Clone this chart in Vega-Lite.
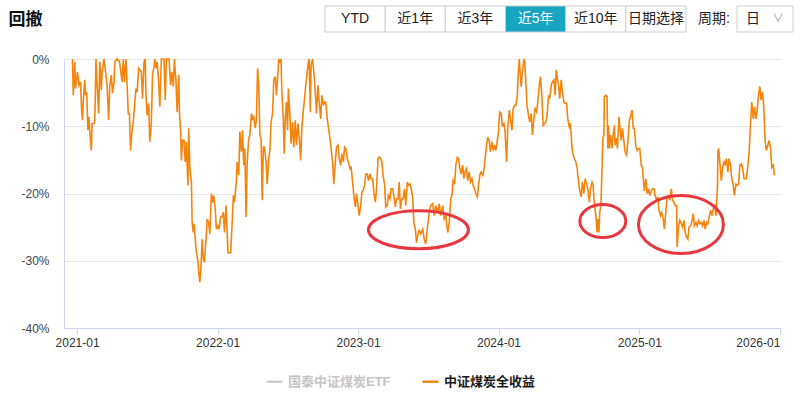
{
"$schema": "https://vega.github.io/schema/vega-lite/v6.json",
"width": 717, "height": 269,
"autosize": {"type": "none"},
"padding": {"left": 64, "top": 59, "right": 19, "bottom": 70},
"background": "#ffffff",
"config": {"font": "Liberation Sans, Noto Sans CJK SC, sans-serif", "view": {"stroke": null}},
"datasets": {
"drawdown": [
{"date":"2020-12-20","value":0},{"date":"2020-12-22","value":-5.4},{"date":"2020-12-26","value":-0.4},{"date":"2020-12-28","value":-4.4},{"date":"2021-01-02","value":-1.9},{"date":"2021-01-06","value":-3.9},{"date":"2021-01-10","value":-3.4},{"date":"2021-01-13","value":-7.9},{"date":"2021-01-15","value":-9.1},{"date":"2021-01-17","value":-6.4},{"date":"2021-01-21","value":-3.1},{"date":"2021-01-23","value":-5.4},{"date":"2021-01-26","value":-4.9},{"date":"2021-01-29","value":-10.6},{"date":"2021-02-01","value":-8.6},{"date":"2021-02-03","value":-10.8},{"date":"2021-02-07","value":-13.6},{"date":"2021-02-09","value":-9.6},{"date":"2021-02-14","value":-9.6},{"date":"2021-02-16","value":-9.4},{"date":"2021-02-19","value":0},{"date":"2021-02-22","value":-3.9},{"date":"2021-02-26","value":-8.1},{"date":"2021-03-01","value":-0.4},{"date":"2021-03-05","value":-4.6},{"date":"2021-03-07","value":-1.9},{"date":"2021-03-12","value":0},{"date":"2021-03-16","value":-1.9},{"date":"2021-03-20","value":-3.9},{"date":"2021-03-24","value":-9.1},{"date":"2021-03-27","value":-3.9},{"date":"2021-03-31","value":-2.4},{"date":"2021-04-03","value":-5.1},{"date":"2021-04-07","value":-3.4},{"date":"2021-04-09","value":-0.4},{"date":"2021-04-15","value":0},{"date":"2021-04-21","value":-0.4},{"date":"2021-04-24","value":-1.6},{"date":"2021-04-28","value":-3.4},{"date":"2021-05-01","value":0},{"date":"2021-05-04","value":-3.4},{"date":"2021-05-08","value":0},{"date":"2021-05-11","value":-3.9},{"date":"2021-05-14","value":-8.1},{"date":"2021-05-17","value":-8.1},{"date":"2021-05-20","value":-13.6},{"date":"2021-05-23","value":-11.1},{"date":"2021-05-27","value":-9.4},{"date":"2021-05-30","value":-7.1},{"date":"2021-06-03","value":-4.4},{"date":"2021-06-06","value":-4.9},{"date":"2021-06-10","value":-1.4},{"date":"2021-06-13","value":-1.6},{"date":"2021-06-17","value":-1.9},{"date":"2021-06-20","value":-5.9},{"date":"2021-06-24","value":-0.4},{"date":"2021-06-27","value":0},{"date":"2021-06-29","value":-5.4},{"date":"2021-07-02","value":-8.4},{"date":"2021-07-06","value":-6.6},{"date":"2021-07-09","value":-12.3},{"date":"2021-07-13","value":-9.4},{"date":"2021-07-16","value":-2.4},{"date":"2021-07-20","value":-1.1},{"date":"2021-07-22","value":0},{"date":"2021-07-25","value":-1.4},{"date":"2021-07-28","value":-0.4},{"date":"2021-08-01","value":-3.4},{"date":"2021-08-04","value":-7.1},{"date":"2021-08-08","value":0},{"date":"2021-08-15","value":0},{"date":"2021-08-18","value":-6.1},{"date":"2021-08-21","value":0},{"date":"2021-08-28","value":0},{"date":"2021-09-01","value":-3.9},{"date":"2021-09-04","value":-1.9},{"date":"2021-09-08","value":-4.1},{"date":"2021-09-11","value":0},{"date":"2021-09-15","value":-3.4},{"date":"2021-09-18","value":-7.9},{"date":"2021-09-22","value":-2.4},{"date":"2021-09-24","value":-7.9},{"date":"2021-09-27","value":-10.8},{"date":"2021-09-29","value":-15.1},{"date":"2021-10-02","value":-12.1},{"date":"2021-10-06","value":-12.1},{"date":"2021-10-09","value":-15.3},{"date":"2021-10-12","value":-12.3},{"date":"2021-10-16","value":-18.8},{"date":"2021-10-18","value":-10.3},{"date":"2021-10-21","value":-16.3},{"date":"2021-10-25","value":-18.3},{"date":"2021-10-27","value":-24.3},{"date":"2021-10-30","value":-25.8},{"date":"2021-11-01","value":-24.5},{"date":"2021-11-04","value":-26.8},{"date":"2021-11-07","value":-28.8},{"date":"2021-11-11","value":-30},{"date":"2021-11-13","value":-31.7},{"date":"2021-11-16","value":-33.2},{"date":"2021-11-19","value":-30.7},{"date":"2021-11-22","value":-26.8},{"date":"2021-11-25","value":-29.8},{"date":"2021-11-28","value":-30.2},{"date":"2021-12-02","value":-26.8},{"date":"2021-12-05","value":-23.8},{"date":"2021-12-09","value":-24.3},{"date":"2021-12-12","value":-26},{"date":"2021-12-16","value":-20},{"date":"2021-12-19","value":-21.3},{"date":"2021-12-22","value":-20.3},{"date":"2021-12-26","value":-22.3},{"date":"2021-12-29","value":-25.3},{"date":"2022-01-02","value":-24.8},{"date":"2022-01-05","value":-25.3},{"date":"2022-01-09","value":-23.5},{"date":"2022-01-12","value":-23.5},{"date":"2022-01-16","value":-22.8},{"date":"2022-01-19","value":-25.8},{"date":"2022-01-23","value":-21.8},{"date":"2022-01-26","value":-25.8},{"date":"2022-01-28","value":-28.8},{"date":"2022-02-04","value":-28.8},{"date":"2022-02-08","value":-24.3},{"date":"2022-02-11","value":-20.3},{"date":"2022-02-14","value":-21.3},{"date":"2022-02-18","value":-18.8},{"date":"2022-02-21","value":-15.3},{"date":"2022-02-25","value":-17.3},{"date":"2022-02-28","value":-10.8},
{"date":"2022-03-04","value":-13.8},{"date":"2022-03-07","value":-10.6},{"date":"2022-03-10","value":-15.8},{"date":"2022-03-13","value":-13.3},{"date":"2022-03-16","value":-23.5},{"date":"2022-03-19","value":-15.3},{"date":"2022-03-23","value":-11.8},{"date":"2022-03-26","value":-11.3},{"date":"2022-03-30","value":-8.1},{"date":"2022-04-02","value":-8.9},{"date":"2022-04-05","value":-8.6},{"date":"2022-04-09","value":-10.3},{"date":"2022-04-12","value":-8.9},{"date":"2022-04-15","value":-1.4},{"date":"2022-04-18","value":-3.9},{"date":"2022-04-21","value":-11.3},{"date":"2022-04-24","value":-11.8},{"date":"2022-04-27","value":-21},{"date":"2022-04-30","value":-13.1},{"date":"2022-05-03","value":-13.1},{"date":"2022-05-07","value":-15.3},{"date":"2022-05-10","value":-18.6},{"date":"2022-05-14","value":-14.8},{"date":"2022-05-17","value":-13.6},{"date":"2022-05-20","value":-9.4},{"date":"2022-05-24","value":-8.1},{"date":"2022-05-27","value":-3.1},{"date":"2022-05-31","value":-2.6},{"date":"2022-06-03","value":-5.4},{"date":"2022-06-07","value":-1.9},{"date":"2022-06-09","value":0},{"date":"2022-06-12","value":-0.4},{"date":"2022-06-15","value":0},{"date":"2022-06-17","value":-4.9},{"date":"2022-06-21","value":-8.9},{"date":"2022-06-23","value":-14.1},{"date":"2022-06-26","value":-8.9},{"date":"2022-06-29","value":-6.4},{"date":"2022-07-02","value":-10.6},{"date":"2022-07-04","value":-4.4},{"date":"2022-07-08","value":-8.4},{"date":"2022-07-11","value":-12.6},{"date":"2022-07-15","value":-9.4},{"date":"2022-07-18","value":-13.1},{"date":"2022-07-22","value":-9.1},{"date":"2022-07-25","value":-12.8},{"date":"2022-07-29","value":-9.6},{"date":"2022-08-01","value":-11.6},{"date":"2022-08-05","value":-15.1},{"date":"2022-08-08","value":-10.1},{"date":"2022-08-12","value":-7.6},{"date":"2022-08-15","value":-5.9},{"date":"2022-08-19","value":-3.4},{"date":"2022-08-22","value":-1.9},{"date":"2022-08-25","value":-0.4},{"date":"2022-08-27","value":0},{"date":"2022-08-30","value":-7.9},{"date":"2022-09-01","value":-0.9},{"date":"2022-09-05","value":0},{"date":"2022-09-08","value":-1.9},{"date":"2022-09-12","value":-4.9},{"date":"2022-09-15","value":-8.1},{"date":"2022-09-19","value":-3.9},{"date":"2022-09-22","value":-6.4},{"date":"2022-09-26","value":-8.9},{"date":"2022-09-29","value":-5.4},{"date":"2022-10-03","value":-6.9},{"date":"2022-10-06","value":-6.4},{"date":"2022-10-09","value":-6.4},{"date":"2022-10-13","value":-8.9},{"date":"2022-10-16","value":-10.1},{"date":"2022-10-20","value":-11.8},{"date":"2022-10-23","value":-13.3},{"date":"2022-10-27","value":-15.3},{"date":"2022-10-30","value":-18.6},{"date":"2022-11-03","value":-15.3},{"date":"2022-11-06","value":-13.1},{"date":"2022-11-10","value":-12.8},{"date":"2022-11-13","value":-14.8},{"date":"2022-11-17","value":-15.8},{"date":"2022-11-20","value":-14.1},{"date":"2022-11-24","value":-15.3},{"date":"2022-11-27","value":-13.1},{"date":"2022-11-30","value":-13.3},{"date":"2022-12-04","value":-14.8},{"date":"2022-12-07","value":-15.3},{"date":"2022-12-11","value":-16.3},{"date":"2022-12-14","value":-16.1},{"date":"2022-12-18","value":-18.3},{"date":"2022-12-21","value":-20.3},{"date":"2022-12-25","value":-22},{"date":"2022-12-28","value":-20},{"date":"2023-01-01","value":-21.8},{"date":"2023-01-04","value":-23.3},{"date":"2023-01-08","value":-21.8},{"date":"2023-01-11","value":-19.8},{"date":"2023-01-14","value":-19.6},{"date":"2023-01-18","value":-18.8},{"date":"2023-01-21","value":-17.1},{"date":"2023-01-25","value":-17.1},{"date":"2023-01-28","value":-18.1},{"date":"2023-02-01","value":-17.1},{"date":"2023-02-04","value":-17.8},{"date":"2023-02-08","value":-17.8},{"date":"2023-02-11","value":-19.8},{"date":"2023-02-15","value":-21.3},{"date":"2023-02-18","value":-19.3},{"date":"2023-02-22","value":-14.8},{"date":"2023-02-25","value":-14.6},{"date":"2023-03-01","value":-14.8},{"date":"2023-03-04","value":-15.3},{"date":"2023-03-07","value":-17.3},{"date":"2023-03-11","value":-18.6},{"date":"2023-03-14","value":-22},{"date":"2023-03-18","value":-21.8},{"date":"2023-03-21","value":-20.3},{"date":"2023-03-25","value":-20.8},{"date":"2023-03-28","value":-19.3},{"date":"2023-04-01","value":-19.3},{"date":"2023-04-04","value":-20.3},{"date":"2023-04-08","value":-22},{"date":"2023-04-11","value":-20.8},{"date":"2023-04-15","value":-20.8},{"date":"2023-04-18","value":-18.3},{"date":"2023-04-21","value":-22.3},{"date":"2023-04-25","value":-20.8},{"date":"2023-04-28","value":-20.8},{"date":"2023-05-02","value":-19.3},{"date":"2023-05-05","value":-21.8},{"date":"2023-05-09","value":-18.3},{"date":"2023-05-12","value":-18.8},{"date":"2023-05-16","value":-18.6},{"date":"2023-05-19","value":-19.3},{"date":"2023-05-23","value":-20.5},{"date":"2023-05-26","value":-24.3},{"date":"2023-05-30","value":-25.3},{"date":"2023-06-02","value":-27.3},{"date":"2023-06-06","value":-26},{"date":"2023-06-09","value":-25.5},
{"date":"2023-06-13","value":-26},{"date":"2023-06-18","value":-25.3},{"date":"2023-06-22","value":-26.8},{"date":"2023-06-26","value":-27.5},{"date":"2023-07-01","value":-24.8},{"date":"2023-07-05","value":-22.8},{"date":"2023-07-09","value":-21.8},{"date":"2023-07-14","value":-21.5},{"date":"2023-07-18","value":-23.3},{"date":"2023-07-22","value":-21.8},{"date":"2023-07-27","value":-22.8},{"date":"2023-07-31","value":-21.5},{"date":"2023-08-04","value":-23.3},{"date":"2023-08-09","value":-21.8},{"date":"2023-08-13","value":-23.8},{"date":"2023-08-17","value":-23.3},{"date":"2023-08-22","value":-25.8},{"date":"2023-08-26","value":-24.3},{"date":"2023-08-30","value":-20.8},{"date":"2023-09-02","value":-20.3},{"date":"2023-09-05","value":-18.1},{"date":"2023-09-09","value":-18.6},{"date":"2023-09-12","value":-15.8},{"date":"2023-09-16","value":-14.6},{"date":"2023-09-19","value":-14.8},{"date":"2023-09-23","value":-16.3},{"date":"2023-09-26","value":-17.1},{"date":"2023-09-30","value":-15.8},{"date":"2023-10-03","value":-17.8},{"date":"2023-10-06","value":-16.8},{"date":"2023-10-10","value":-16.3},{"date":"2023-10-13","value":-18.1},{"date":"2023-10-17","value":-16.8},{"date":"2023-10-20","value":-18.3},{"date":"2023-10-24","value":-17.8},{"date":"2023-10-27","value":-18.8},{"date":"2023-10-31","value":-19.3},{"date":"2023-11-03","value":-20},{"date":"2023-11-07","value":-20.5},{"date":"2023-11-10","value":-18.8},{"date":"2023-11-14","value":-17.1},{"date":"2023-11-17","value":-16.8},{"date":"2023-11-21","value":-17.3},{"date":"2023-11-24","value":-16.6},{"date":"2023-11-28","value":-14.3},{"date":"2023-12-01","value":-12.8},{"date":"2023-12-04","value":-11.6},{"date":"2023-12-08","value":-12.3},{"date":"2023-12-11","value":-13.8},{"date":"2023-12-15","value":-12.3},{"date":"2023-12-18","value":-13.6},{"date":"2023-12-22","value":-12.8},{"date":"2023-12-25","value":-13.6},{"date":"2023-12-29","value":-12.1},{"date":"2024-01-01","value":-10.8},{"date":"2024-01-04","value":-7.9},{"date":"2024-01-08","value":-8.1},{"date":"2024-01-11","value":-9.9},{"date":"2024-01-15","value":-9.6},{"date":"2024-01-18","value":-10.8},{"date":"2024-01-22","value":-15.3},{"date":"2024-01-25","value":-10.3},{"date":"2024-01-29","value":-7.6},{"date":"2024-02-01","value":-8.9},{"date":"2024-02-05","value":-10.6},{"date":"2024-02-08","value":-7.4},{"date":"2024-02-12","value":-6.9},{"date":"2024-02-15","value":-6.9},{"date":"2024-02-19","value":-5.4},{"date":"2024-02-21","value":-2.4},{"date":"2024-02-24","value":0},{"date":"2024-02-26","value":-1.9},{"date":"2024-02-29","value":-4.1},{"date":"2024-03-03","value":-1.9},{"date":"2024-03-07","value":0},{"date":"2024-03-09","value":-0.4},{"date":"2024-03-12","value":-3.4},{"date":"2024-03-15","value":-6.9},{"date":"2024-03-19","value":-8.4},{"date":"2024-03-22","value":-9.4},{"date":"2024-03-26","value":-8.1},{"date":"2024-03-29","value":-11.3},{"date":"2024-04-02","value":-8.9},{"date":"2024-04-05","value":-7.4},{"date":"2024-04-09","value":-7.9},{"date":"2024-04-12","value":-6.4},{"date":"2024-04-16","value":-3.9},{"date":"2024-04-19","value":-2.6},{"date":"2024-04-23","value":-5.9},{"date":"2024-04-26","value":-9.9},{"date":"2024-04-30","value":-9.6},{"date":"2024-05-03","value":-9.4},{"date":"2024-05-06","value":-8.6},{"date":"2024-05-10","value":-5.4},{"date":"2024-05-13","value":-5.9},{"date":"2024-05-17","value":-3.9},{"date":"2024-05-20","value":-3.4},{"date":"2024-05-24","value":-3.1},{"date":"2024-05-27","value":-5.4},{"date":"2024-05-30","value":-1.6},{"date":"2024-06-02","value":-2.9},{"date":"2024-06-05","value":-3.9},{"date":"2024-06-08","value":-5.9},{"date":"2024-06-12","value":-3.1},{"date":"2024-06-15","value":-4.9},{"date":"2024-06-19","value":-6.4},{"date":"2024-06-22","value":-6.6},{"date":"2024-06-26","value":-6.6},{"date":"2024-06-29","value":-8.9},{"date":"2024-07-03","value":-10.1},{"date":"2024-07-06","value":-9.6},{"date":"2024-07-10","value":-13.3},{"date":"2024-07-13","value":-14.3},{"date":"2024-07-16","value":-14.8},{"date":"2024-07-20","value":-15.3},{"date":"2024-07-23","value":-16.1},{"date":"2024-07-27","value":-18.3},{"date":"2024-07-30","value":-19.6},{"date":"2024-08-03","value":-20.5},{"date":"2024-08-06","value":-18.3},{"date":"2024-08-10","value":-20},{"date":"2024-08-13","value":-17.8},{"date":"2024-08-17","value":-18.6},{"date":"2024-08-20","value":-19.3},{"date":"2024-08-24","value":-21.3},{"date":"2024-08-27","value":-19.3},{"date":"2024-08-31","value":-18.3},
{"date":"2024-09-03","value":-18.8},{"date":"2024-09-05","value":-20.8},{"date":"2024-09-07","value":-21.8},{"date":"2024-09-10","value":-23.3},{"date":"2024-09-13","value":-25.8},{"date":"2024-09-15","value":-23.8},{"date":"2024-09-18","value":-25.8},{"date":"2024-09-20","value":-22.8},{"date":"2024-09-23","value":-21.8},{"date":"2024-09-26","value":-16.3},{"date":"2024-09-28","value":-11.8},{"date":"2024-10-01","value":-11.3},{"date":"2024-10-02","value":-5.6},{"date":"2024-10-06","value":-5.4},{"date":"2024-10-09","value":-5.6},{"date":"2024-10-11","value":-13.3},{"date":"2024-10-13","value":-9.9},{"date":"2024-10-15","value":-13.3},{"date":"2024-10-18","value":-11.3},{"date":"2024-10-22","value":-13.3},{"date":"2024-10-24","value":-11.8},{"date":"2024-10-28","value":-9.9},{"date":"2024-10-30","value":-12.8},{"date":"2024-11-02","value":-11.8},{"date":"2024-11-05","value":-13.3},{"date":"2024-11-09","value":-8.6},{"date":"2024-11-11","value":-9.9},{"date":"2024-11-15","value":-12.1},{"date":"2024-11-18","value":-10.3},{"date":"2024-11-22","value":-12.3},{"date":"2024-11-25","value":-13.8},{"date":"2024-11-29","value":-14.3},{"date":"2024-12-02","value":-12.3},{"date":"2024-12-06","value":-9.1},{"date":"2024-12-09","value":-8.6},{"date":"2024-12-13","value":-7.6},{"date":"2024-12-16","value":-10.3},{"date":"2024-12-19","value":-10.3},{"date":"2024-12-23","value":-13.1},{"date":"2024-12-26","value":-13.6},{"date":"2024-12-30","value":-13.3},{"date":"2025-01-02","value":-13.3},{"date":"2025-01-06","value":-15.8},{"date":"2025-01-09","value":-16.1},{"date":"2025-01-12","value":-18.3},{"date":"2025-01-14","value":-19.6},{"date":"2025-01-18","value":-17.8},{"date":"2025-01-21","value":-20},{"date":"2025-01-25","value":-19.3},{"date":"2025-01-28","value":-20.3},{"date":"2025-02-01","value":-19.6},{"date":"2025-02-04","value":-19.3},{"date":"2025-02-08","value":-19.3},{"date":"2025-02-11","value":-20.3},{"date":"2025-02-15","value":-21},{"date":"2025-02-18","value":-20.5},{"date":"2025-02-21","value":-22.5},{"date":"2025-02-25","value":-23.3},{"date":"2025-02-28","value":-22.8},{"date":"2025-03-04","value":-23.8},{"date":"2025-03-07","value":-25.3},{"date":"2025-03-11","value":-22.5},{"date":"2025-03-14","value":-20.5},{"date":"2025-03-18","value":-20.3},{"date":"2025-03-21","value":-21},{"date":"2025-03-25","value":-19.3},{"date":"2025-03-28","value":-21},{"date":"2025-04-01","value":-21.3},{"date":"2025-04-04","value":-21.8},{"date":"2025-04-08","value":-21.8},{"date":"2025-04-09","value":-28},{"date":"2025-04-13","value":-24.8},{"date":"2025-04-16","value":-24},{"date":"2025-04-20","value":-24.5},{"date":"2025-04-23","value":-25},{"date":"2025-04-27","value":-24},{"date":"2025-04-30","value":-25.8},{"date":"2025-05-04","value":-26.5},{"date":"2025-05-07","value":-26.8},{"date":"2025-05-10","value":-25},{"date":"2025-05-14","value":-24.8},{"date":"2025-05-17","value":-24.3},{"date":"2025-05-21","value":-23},{"date":"2025-05-24","value":-24.8},{"date":"2025-05-28","value":-24.3},{"date":"2025-05-31","value":-24.8},{"date":"2025-06-04","value":-24},{"date":"2025-06-07","value":-24.5},{"date":"2025-06-11","value":-24.3},{"date":"2025-06-14","value":-24.8},{"date":"2025-06-18","value":-24},{"date":"2025-06-21","value":-25.3},{"date":"2025-06-25","value":-24.3},{"date":"2025-06-28","value":-24.5},{"date":"2025-07-02","value":-23.3},{"date":"2025-07-05","value":-22.5},{"date":"2025-07-09","value":-23.3},{"date":"2025-07-12","value":-22.3},{"date":"2025-07-16","value":-21.8},{"date":"2025-07-19","value":-23.3},{"date":"2025-07-23","value":-18.8},{"date":"2025-07-24","value":-13.8},{"date":"2025-07-26","value":-13.3},{"date":"2025-07-29","value":-15.3},{"date":"2025-08-02","value":-18.1},{"date":"2025-08-05","value":-16.3},{"date":"2025-08-09","value":-15.3},{"date":"2025-08-12","value":-15.8},{"date":"2025-08-15","value":-14.8},{"date":"2025-08-19","value":-16.8},{"date":"2025-08-22","value":-14.8},{"date":"2025-08-26","value":-15.8},{"date":"2025-08-29","value":-17.8},{"date":"2025-09-02","value":-18.8},{"date":"2025-09-05","value":-20.3},{"date":"2025-09-09","value":-18.6},{"date":"2025-09-12","value":-18.8},{"date":"2025-09-16","value":-18.6},{"date":"2025-09-19","value":-15.8},{"date":"2025-09-23","value":-15.6},{"date":"2025-09-26","value":-16.1},{"date":"2025-09-30","value":-17.8},{"date":"2025-10-03","value":-17.8},{"date":"2025-10-06","value":-17.8},{"date":"2025-10-10","value":-15.8},{"date":"2025-10-13","value":-14.1},{"date":"2025-10-17","value":-9.4},{"date":"2025-10-20","value":-6.4},{"date":"2025-10-24","value":-8.9},{"date":"2025-10-27","value":-7.1},{"date":"2025-10-31","value":-8.9},{"date":"2025-11-03","value":-7.6},{"date":"2025-11-07","value":-5.1},{"date":"2025-11-10","value":-4.1},{"date":"2025-11-13","value":-6.1},{"date":"2025-11-17","value":-4.9},{"date":"2025-11-20","value":-6.9},{"date":"2025-11-24","value":-12.3},{"date":"2025-11-27","value":-13.6},{"date":"2025-12-01","value":-12.8},{"date":"2025-12-04","value":-12.1},{"date":"2025-12-08","value":-13.3},{"date":"2025-12-11","value":-16.1},{"date":"2025-12-15","value":-15.8},{"date":"2025-12-18","value":-17.3}
],
"ellipses": [
{"date":"2023-06-07","value":-25.4,"id":"A"},
{"date":"2024-09-28","value":-24.1,"id":"B"},
{"date":"2025-04-19","value":-24.6,"id":"C"}
],
"buttons": [
{"item":"YTD","group":"range"},{"item":"近1年","group":"range"},{"item":"近3年","group":"range"},{"item":"近5年","group":"range"},{"item":"近10年","group":"range"},{"item":"日期选择","group":"range"}
],
"period": [
{"item":"周期:","group":"range"},{"item":"日","group":"range"}
]
},
"layer": [
{
"layer": [
{
"data": {"name": "drawdown"},
"mark": {"type": "line", "strokeWidth": 1.6},
"encoding": {
"x": {"field": "date", "type": "temporal", "title": null,
"scale": {"type": "utc", "domain": [{"year":2020,"month":11,"date":28,"utc":true},{"year":2026,"month":1,"date":4,"utc":true}]},
"axis": {"values": [{"year":2021,"month":1,"date":1,"utc":true},{"year":2022,"month":1,"date":1,"utc":true},{"year":2023,"month":1,"date":1,"utc":true},{"year":2024,"month":1,"date":1,"utc":true},{"year":2025,"month":1,"date":1,"utc":true},{"year":2026,"month":1,"date":1,"utc":true}],
"format": "%Y-%m", "grid": false, "domainColor": "#ccd6eb", "tickColor": "#ccd6eb", "tickSize": 6, "labelColor": "#333333", "labelFontSize": 12, "labelPadding": 3, "labelFlush": 3, "labelOverlap": false}},
"y": {"field": "value", "type": "quantitative",
"scale": {"domain": [-40, 0], "nice": false},
"axis": {"values": [-40, -30, -20, -10, 0], "labelExpr": "datum.value + '%'", "domainColor": "#ccd6eb", "ticks": false, "labelPadding": 15, "gridColor": "#e6e6e6", "labelColor": "#444444", "labelFontSize": 12,
"title": "回撤", "titleAngle": 0, "titleX": -56, "titleY": -40, "titleAlign": "left", "titleBaseline": "middle", "titleFontSize": 17, "titleFontWeight": "bold", "titleColor": "#111111"}},
"color": {"datum": "中证煤炭全收益", "type": "nominal",
"scale": {"domain": ["国泰中证煤炭ETF", "中证煤炭全收益"], "range": ["#cccccc", "#f5840c"]},
"legend": {"orient": "none", "legendX": 201, "legendY": 313, "direction": "horizontal", "title": null, "symbolType": "stroke", "symbolStrokeWidth": 2.5, "symbolSize": 250, "labelFontSize": 13, "labelFontWeight": "bold", "labelColor": "#1a1a1a", "columnPadding": 26,
"encode": {"labels": {"update": {"fill": {"signal": "datum.value === '国泰中证煤炭ETF' ? '#c4c4c4' : '#1a1a1a'"}}}}}}
}
},
{
"data": {"name": "ellipses"},
"transform": [{"filter": "datum.id === 'A'"}],
"mark": {"type": "point", "shape": "M-1,0C-1,-0.21,-0.552,-0.38,0,-0.38C0.552,-0.38,1,-0.21,1,0C1,0.21,0.552,0.38,0,0.38C-0.552,0.38,-1,0.21,-1,0Z", "size": 10000, "filled": false, "color": "#e8383f", "strokeWidth": 3, "opacity": 1},
"encoding": {"x": {"field": "date", "type": "temporal"}, "y": {"field": "value", "type": "quantitative"}}
},
{
"data": {"name": "ellipses"},
"transform": [{"filter": "datum.id === 'B'"}],
"mark": {"type": "point", "shape": "M-1,0C-1,-0.396,-0.552,-0.717,0,-0.717C0.552,-0.717,1,-0.396,1,0C1,0.396,0.552,0.717,0,0.717C-0.552,0.717,-1,0.396,-1,0Z", "size": 2116, "filled": false, "color": "#e8383f", "strokeWidth": 3, "opacity": 1},
"encoding": {"x": {"field": "date", "type": "temporal"}, "y": {"field": "value", "type": "quantitative"}}
},
{
"data": {"name": "ellipses"},
"transform": [{"filter": "datum.id === 'C'"}],
"mark": {"type": "point", "shape": "M-1,0C-1,-0.377,-0.552,-0.682,0,-0.682C0.552,-0.682,1,-0.377,1,0C1,0.377,0.552,0.682,0,0.682C-0.552,0.682,-1,0.377,-1,0Z", "size": 7225, "filled": false, "color": "#e8383f", "strokeWidth": 3, "opacity": 1},
"encoding": {"x": {"field": "date", "type": "temporal"}, "y": {"field": "value", "type": "quantitative"}}
}
]
},
{
"data": {"name": "buttons"},
"encoding": {
"x": {"field": "item", "type": "nominal", "sort": null, "axis": null, "scale": {"domain": ["YTD", "近1年", "近3年", "近5年", "近10年", "日期选择"], "range": [261, 622], "paddingInner": 0, "paddingOuter": 0}},
"y": {"field": "group", "type": "nominal", "axis": null, "scale": {"range": [-53, -27], "paddingInner": 0, "paddingOuter": 0}}
},
"layer": [
{"mark": {"type": "rect", "stroke": "#cccccc", "strokeWidth": 1},
"encoding": {"fill": {"condition": {"test": "datum.item === '近5年'", "value": "#17a5c1"}, "value": "#ffffff"}}},
{"mark": {"type": "text", "fontSize": 14, "baseline": "middle", "align": "center"},
"encoding": {"text": {"field": "item"}, "color": {"condition": {"test": "datum.item === '近5年'", "value": "#ffffff"}, "value": "#222222"}}}
]
},
{
"data": {"name": "period"},
"encoding": {
"x": {"field": "item", "type": "nominal", "sort": null, "axis": null, "scale": {"domain": ["周期:", "日"], "range": [617, 729], "paddingInner": 0, "paddingOuter": 0}},
"y": {"field": "group", "type": "nominal", "axis": null, "scale": {"range": [-53, -27], "paddingInner": 0, "paddingOuter": 0}}
},
"layer": [
{"transform": [{"filter": "datum.item === '日'"}], "mark": {"type": "rect", "stroke": "#cccccc", "strokeWidth": 1, "fill": "#ffffff"}},
{"transform": [{"filter": "datum.item === '周期:'"}], "mark": {"type": "text", "fontSize": 14, "baseline": "middle", "align": "center", "color": "#222222", "dx": 5},
"encoding": {"text": {"field": "item"}}},
{"transform": [{"filter": "datum.item === '日'"}], "mark": {"type": "text", "fontSize": 14, "baseline": "middle", "align": "center", "color": "#222222", "dx": -12},
"encoding": {"text": {"field": "item"}}},
{"transform": [{"filter": "datum.item === '日'"}], "mark": {"type": "text", "text": "∨", "fontSize": 11, "baseline": "middle", "align": "center", "color": "#999999", "dx": 13}}
]
}
],
"resolve": {"scale": {"x": "independent", "y": "independent", "color": "independent"}}
}
